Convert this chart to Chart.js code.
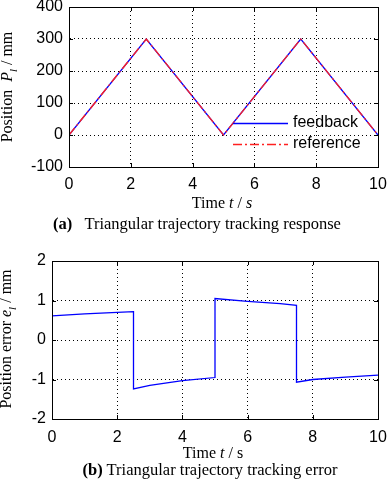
<!DOCTYPE html>
<html><head><meta charset="utf-8">
<script src="https://cdn.jsdelivr.net/npm/chart.js@4/dist/chart.umd.min.js"></script>
<style>
html,body{margin:0;padding:0;background:#fff;}
#wrap{position:relative;width:387px;height:496px;overflow:hidden;}
canvas{position:absolute;left:0;}
.t{position:absolute;font-family:"Liberation Serif","Times New Roman",serif;font-size:16px;color:#000;white-space:nowrap;line-height:1;}
.rot{transform:translate(-50%,-50%) rotate(-90deg);}
.ctr{transform:translate(-50%,-50%);}
</style></head><body>
<div id="wrap">
<canvas id="c1" style="top:0px"></canvas>
<canvas id="c2" style="top:245px"></canvas>
<div class="t rot" style="left:9px;top:87px;">Position&nbsp; <i>P<sub style="font-size:11px">l</sub></i> / mm</div>
<div class="t ctr" style="left:222px;top:203px;">Time <i>t</i> / <i>s</i></div>
<div class="t ctr" style="left:197px;top:224px;font-size:16.5px;"><b>(a)</b>&nbsp;&nbsp; Triangular trajectory tracking response</div>
<div class="t rot" style="left:8px;top:339px;">Position error <i>e<sub style="font-size:11px">l</sub></i> / mm</div>
<div class="t ctr" style="left:213px;top:453px;">Time <i>t</i> / s</div>
<div class="t ctr" style="left:210px;top:470px;font-size:16.5px;"><b>(b)</b> Triangular trajectory tracking error</div>
</div>
<script>
const timeTicks = [0, 2, 4, 6, 8, 10];
const posTime = [0, 2.5, 5, 7.5, 10];
const posFeedback = [0, 300, 0, 300, 0];
const posReference = [0, 300, 0, 300, 0];
const posTicks = [-100, 0, 100, 200, 300, 400];
const errTime = [0, 1, 2, 2.5, 2.5, 3, 4, 5, 5, 6, 7, 7.5, 7.5, 8, 9, 10];
const errValues = [0.61, 0.66, 0.70, 0.72, -1.24, -1.15, -1.03, -0.95, 1.05, 0.98, 0.92, 0.88, -1.07, -1.00, -0.94, -0.89];
const errTicks = [-2, -1, 0, 1, 2];
const seriesLabels = ['feedback', 'reference'];

const pts = (xs, ys) => xs.map((x, i) => ({x: x, y: ys[i]}));
const tickFont = {family: '"Liberation Sans", Arial, sans-serif', size: 16};

const framePlugin = {
  id: 'frame',
  afterDatasetsDraw(chart) {
    const {ctx, chartArea: a} = chart;
    ctx.save();
    ctx.strokeStyle = '#000';
    ctx.lineWidth = 1;
    ctx.setLineDash([]);
    ctx.strokeRect(Math.round(a.left) + 0.5, Math.round(a.top) + 0.5, Math.round(a.right - a.left), Math.round(a.bottom - a.top));
    const xs = chart.scales.x, ys = chart.scales.y;
    ctx.beginPath();
    xs.ticks.forEach(t => {
      const px = Math.round(xs.getPixelForValue(t.value)) + 0.5;
      ctx.moveTo(px, a.bottom); ctx.lineTo(px, a.bottom - 4);
      ctx.moveTo(px, a.top); ctx.lineTo(px, a.top + 4);
    });
    ys.ticks.forEach(t => {
      const py = Math.round(ys.getPixelForValue(t.value)) + 0.5;
      ctx.moveTo(a.left, py); ctx.lineTo(a.left + 4, py);
      ctx.moveTo(a.right, py); ctx.lineTo(a.right - 4, py);
    });
    ctx.stroke();
    ctx.restore();
  }
};

const legendPlugin = {
  id: 'inlegend',
  afterDraw(chart, args, opts) {
    if (!opts.show) return;
    const ctx = chart.ctx;
    ctx.save();
    ctx.font = '16px "Liberation Sans", Arial, sans-serif';
    ctx.textBaseline = 'middle';
    ctx.fillStyle = '#000';
    chart.data.datasets.forEach((ds, i) => {
      const y = opts.y + i * opts.gap;
      ctx.strokeStyle = ds.borderColor;
      ctx.lineWidth = 1.4;
      ctx.setLineDash(ds.borderDash || []);
      ctx.beginPath();
      ctx.moveTo(opts.x, y + 0.5);
      ctx.lineTo(opts.x + opts.len, y + 0.5);
      ctx.stroke();
      ctx.fillText(ds.label, opts.x + opts.len + 5, y);
    });
    ctx.restore();
  }
};

function makeOpts(yMin, yMax, yTicks, yWidth, xHeight, tickPad, legend) {
  return {
    responsive: false,
    animation: false,
    layout: {padding: {left: 0, right: 9, top: 7, bottom: 0}},
    plugins: {legend: {display: false}, tooltip: {enabled: false}, inlegend: legend},
    elements: {point: {radius: 0}, line: {tension: 0}},
    scales: {
      x: {
        type: 'linear', min: 0, max: 10,
        afterBuildTicks: s => { s.ticks = timeTicks.map(v => ({value: v})); },
        afterFit: s => { s.height = xHeight; s.paddingLeft = 0; s.paddingRight = 0; },
        ticks: {font: tickFont, color: '#000', padding: tickPad, maxRotation: 0},
        grid: {color: '#000', lineWidth: 1, drawTicks: false},
        border: {display: true, color: '#000', dash: [1, 3]},
      },
      y: {
        type: 'linear', min: yMin, max: yMax,
        afterBuildTicks: s => { s.ticks = yTicks.map(v => ({value: v})); },
        afterFit: s => { s.width = yWidth; s.paddingTop = 0; s.paddingBottom = 0; },
        ticks: {font: tickFont, color: '#000', padding: 6},
        grid: {color: '#000', lineWidth: 1, drawTicks: false},
        border: {display: true, color: '#000', dash: [1, 3]},
      }
    }
  };
}

const c1 = document.getElementById('c1');
c1.width = 387; c1.height = 196;
const o1 = makeOpts(-100, 400, posTicks, 69, 29, 8, {show: true, x: 233, y: 123, gap: 21, len: 55});
o1.layout.padding.top = 7;
new Chart(c1, {
  type: 'line',
  data: {datasets: [
    {label: seriesLabels[0], data: pts(posTime, posFeedback), borderColor: '#0000ff', borderWidth: 1.3, order: 2},
    {label: seriesLabels[1], data: pts(posTime, posReference), borderColor: '#ff2020', borderWidth: 1.3, borderDash: [9, 3, 2, 3], order: 1}
  ]},
  options: o1,
  plugins: [framePlugin, legendPlugin]
});

const c2 = document.getElementById('c2');
c2.width = 387; c2.height = 203;
const o2 = makeOpts(-2, 2, errTicks, 52, 29, 9, {show: false});
o2.layout.padding.top = 16;
new Chart(c2, {
  type: 'line',
  data: {datasets: [
    {label: 'error', data: pts(errTime, errValues), borderColor: '#0000ff', borderWidth: 1.3}
  ]},
  options: o2,
  plugins: [framePlugin, legendPlugin]
});
</script>
</body></html>
